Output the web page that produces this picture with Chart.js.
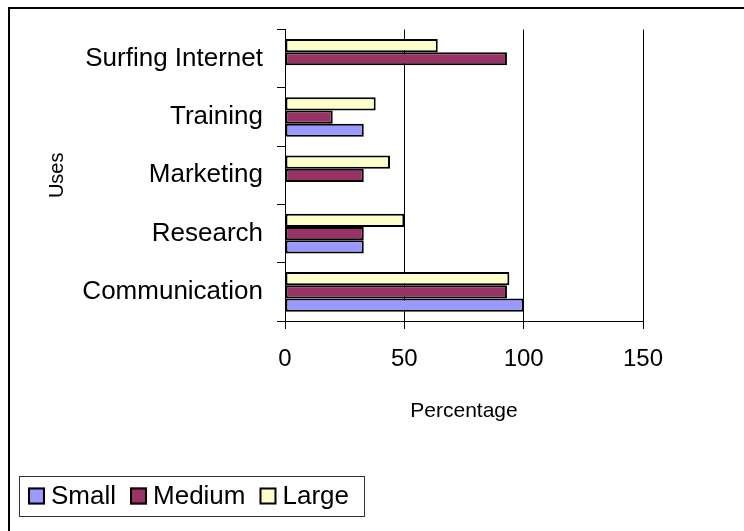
<!DOCTYPE html>
<html>
<head>
<meta charset="utf-8">
<script src="https://cdn.jsdelivr.net/npm/chart.js@4.4.1/dist/chart.umd.min.js"></script>
<style>
  html, body { margin: 0; padding: 0; background: #fff; }
  #usesChart { display: block; }
</style>
</head>
<body>
<canvas id="usesChart" width="744" height="531"></canvas>
<script>
// categories, bottom to top
const uses = ['Communication', 'Research', 'Marketing', 'Training', 'Surfing Internet'];
// percentage by company size (null = no bar)
const small = [100, 33, null, 33, null];
const medium = [93, 33, 33, 20, 93];
const large = [94, 50, 44, 38, 64];
const xTicks = [0, 50, 100, 150];

const FONT = 'Arial, "Liberation Sans", sans-serif';

// frame round the whole chart
const framePlugin = {
    id: 'frame',
    beforeDraw(chart) {
        const c = chart.ctx;
        c.save();
        c.fillStyle = '#fff';
        c.fillRect(0, 0, chart.width, chart.height);
        c.strokeStyle = '#000';
        c.lineWidth = 2;
        c.strokeRect(9, 8, chart.width + 20, chart.height + 20);
        c.restore();
    }
};

// boxed legend bottom left: Small, Medium, Large
const boxLegend = {
    id: 'boxLegend',
    afterDraw(chart) {
        const c = chart.ctx;
        const sets = chart.data.datasets.slice().reverse();
        c.save();
        c.font = '26px ' + FONT;
        c.textBaseline = 'middle';
        c.textAlign = 'left';
        let x = 28;
        const y = 496;
        sets.forEach(ds => {
            c.fillStyle = ds.backgroundColor;
            c.fillRect(x, y - 8.5, 17, 17);
            c.strokeStyle = '#000';
            c.lineWidth = 2;
            c.strokeRect(x + 1, y - 7.5, 15, 15);
            x += 17 + 6;
            c.fillStyle = '#000';
            c.fillText(ds.label, x, y + 1);
            x += c.measureText(ds.label).width + 14;
        });
        c.strokeStyle = '#333';
        c.lineWidth = 1;
        c.strokeRect(19.5, 476.5, 345, 40);
        c.restore();
    }
};

function barSet(label, data, color) {
    return {
        label: label,
        data: data,
        backgroundColor: color,
        borderColor: '#000',
        borderWidth: 2,
        borderSkipped: false,
        categoryPercentage: 0.68,
        barPercentage: 1.0
    };
}

new Chart(document.getElementById('usesChart'), {
    type: 'bar',
    data: {
        labels: uses,
        datasets: [
            barSet('Large', large, '#FFFFCC'),
            barSet('Medium', medium, '#993366'),
            barSet('Small', small, '#9999FF')
        ]
    },
    options: {
        indexAxis: 'y',
        responsive: false,
        animation: false,
        devicePixelRatio: 1,
        layout: { padding: { top: 29, right: 101, bottom: 91, left: 0 } },
        plugins: {
            legend: { display: false },
            tooltip: { enabled: false }
        },
        scales: {
            x: {
                min: 0,
                max: 150,
                afterBuildTicks: s => { s.ticks = xTicks.map(v => ({ value: v })); },
                afterFit: s => { s.height = 119; },
                grid: { color: '#000', lineWidth: 1, tickLength: 8, tickColor: '#000' },
                border: { color: '#000', width: 1 },
                ticks: { color: '#000', font: { family: FONT, size: 24 }, padding: 16, maxRotation: 0 },
                title: {
                    display: true,
                    text: 'Percentage',
                    color: '#000',
                    font: { family: FONT, size: 21 },
                    padding: { top: 0, bottom: 16 }
                }
            },
            y: {
                reverse: true,
                afterFit: s => { s.width = 285; },
                grid: { drawOnChartArea: false, tickLength: 8, tickColor: '#000', offset: true },
                border: { color: '#000', width: 1 },
                ticks: { color: '#000', font: { family: FONT, size: 26 }, padding: 14 },
                title: {
                    display: true,
                    text: 'Uses',
                    color: '#000',
                    font: { family: FONT, size: 20 },
                    padding: { top: 45, bottom: 0 }
                }
            }
        }
    },
    plugins: [framePlugin, boxLegend]
});
</script>
</body>
</html>
